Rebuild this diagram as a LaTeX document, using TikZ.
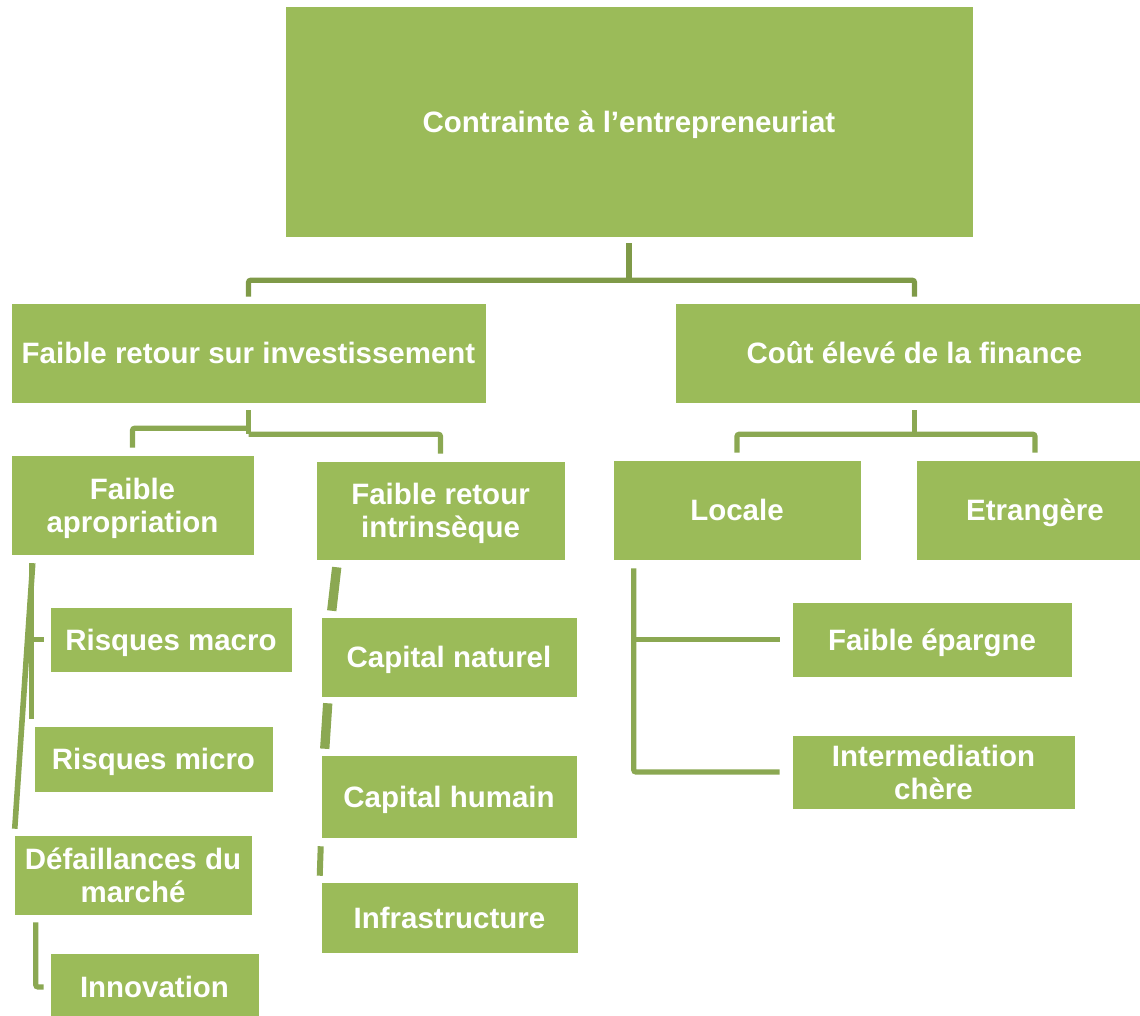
\documentclass[tikz,border=0pt]{standalone}
\usepackage{fontspec}
\setmainfont{Liberation Sans}
\usetikzlibrary{calc}
\definecolor{boxgreen}{HTML}{9BBB59}
\definecolor{connA}{HTML}{7F9A48}
\definecolor{connB}{HTML}{8BA852}
\tikzset{
  box/.style={fill=boxgreen, draw=white, line width=0.4pt, text=white, inner sep=0pt, align=center,
    text depth=0pt, font=\bfseries\fontsize{22.1}{24.75}\selectfont},
  linkA/.style={draw=connA, line width=3.8pt, rounded corners=1.5pt},
  linkB/.style={draw=connB, line width=3.8pt, rounded corners=1.5pt},
}
\begin{document}
\begin{tikzpicture}[x=0.75pt, y=-0.75pt]
\useasboundingbox (0,0) rectangle (1140,1016);
% boxes
\node[box, minimum width=516pt, minimum height=173.25pt] (top) at (629,121.5) {Contrainte à l’entrepreneuriat};
\node[box, minimum width=356.25pt, minimum height=75pt] (fri) at (248.5,353) {Faible retour sur investissement};
\node[box, minimum width=359.25pt, minimum height=75pt] (cef) at (914.5,353) {Coût élevé de la finance};
\node[box, minimum width=182.25pt, minimum height=75pt] (fa) at (132.5,505) {Faible\\apropriation};
\node[box, minimum width=186.75pt, minimum height=74.25pt] (fi) at (440.5,510.5) {Faible retour\\intrinsèque};
\node[box, minimum width=186pt, minimum height=75pt] (loc) at (737,510) {Locale};
\node[box, minimum width=178.5pt, minimum height=75pt] (etr) at (1035,510) {Etrangère};
\node[box, minimum width=181.5pt, minimum height=48.75pt] (rma) at (171,639.5) {Risques macro};
\node[box, minimum width=179.25pt, minimum height=49.5pt] (rmi) at (153.5,759) {Risques micro};
\node[box, minimum width=178.5pt, minimum height=60pt] (daf) at (133,875) {Défaillances du\\marché};
\node[box, minimum width=156.75pt, minimum height=51pt] (inn) at (154.5,987) {Innovation};
\node[box, minimum width=192pt, minimum height=60pt] (cn) at (449,657) {Capital naturel};
\node[box, minimum width=192pt, minimum height=62.25pt] (ch) at (449,796.5) {Capital humain};
\node[box, minimum width=192.75pt, minimum height=53.25pt] (inf) at (449.5,917.5) {Infrastructure};
\node[box, minimum width=210pt, minimum height=56.25pt] (fe) at (932,639.5) {Faible épargne};
\node[box, minimum width=212.25pt, minimum height=55.5pt] (im) at (933.5,772) {Intermediation\\chère};
% level 1
\draw[linkA] ($(top.south)+(0,6)$) -- ++(0,37) coordinate (j0);
\draw[linkA] ($(fri.north)+(0,-6)$) |- (j0) -| ($(cef.north)+(0,-6)$);
% level 2 left
\draw[linkB] ($(fri.south)+(0,7)$) -- ++(0,24) coordinate (j1);
\draw[linkB] ($(fa.north)+(0,-7)$) |- ($(j1)+(0,-6)$);
\draw[linkB] ($(fi.north)+(0,-7)$) |- (j1);
% level 2 right
\draw[linkB] ($(cef.south)+(0,7)$) -- ++(0,24) coordinate (j2);
\draw[linkB] ($(loc.north)+(0,-7)$) |- (j2) -| ($(etr.north)+(0,-7)$);
% Locale children
\draw[linkB] ($(loc.south west)+(21,8)$) coordinate (l0) |- ($(im.west)+(-12,0)$);
\draw[linkB] (l0 |- fe.west) -- ($(fe.west)+(-12,0)$);
% Faible apropriation children
\draw[linkB, line width=4.2pt] ($(fa.south west)+(22,8)$) -- ($(daf.north west)+(1,-6)$);
\draw[linkB] ($(fa.south west)+(21,8)$) -- ($(rmi.north west)+(-2,-7)$);
\draw[linkB] ($(rma.west)+(-18,0)$) -- ($(rma.west)+(-6,0)$);
\draw[linkB] ($(daf.south west)+(22,7)$) |- ($(inn.west)+(-6,0)$);
% Faible retour intrinseque children
\draw[linkB, line width=7pt] ($(fi.south west)+(21,7)$) -- ($(cn.north west)+(11,-6)$);
\draw[linkB, line width=7pt] ($(cn.south west)+(7,6)$) -- ($(ch.north west)+(4,-6)$);
\draw[linkB, line width=4.5pt] ($(ch.south west)+(0,8)$) -- ($(inf.north west)+(-1,-6)$);
\end{tikzpicture}
\end{document}
